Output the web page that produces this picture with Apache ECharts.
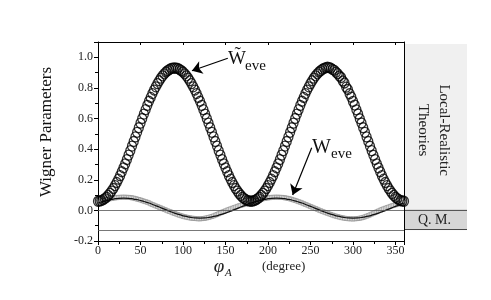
<!DOCTYPE html>
<html><head><meta charset="utf-8">
<script src="https://cdn.jsdelivr.net/npm/echarts@6/dist/echarts.min.js"></script>
<style>html,body{margin:0;padding:0;background:#fff}#c{width:491px;height:300px}</style>
</head><body><div id="c"></div>
<script>
// phi_A (degree) for the measured points
const phi = [0,2,4,6,8,10,12,14,16,18,20,22,24,26,28,30,32,34,36,38,40,42,44,46,48,50,52,54,56,58,60,62,64,66,68,70,72,74,76,78,80,82,84,86,88,90,92,94,96,98,100,102,104,106,108,110,112,114,116,118,120,122,124,126,128,130,132,134,136,138,140,142,144,146,148,150,152,154,156,158,160,162,164,166,168,170,172,174,176,178,180,182,184,186,188,190,192,194,196,198,200,202,204,206,208,210,212,214,216,218,220,222,224,226,228,230,232,234,236,238,240,242,244,246,248,250,252,254,256,258,260,262,264,266,268,270,272,274,276,278,280,282,284,286,288,290,292,294,296,298,300,302,304,306,308,310,312,314,316,318,320,322,324,326,328,330,332,334,336,338,340,342,344,346,348,350,352,354,356,358,360];
// W~eve (open circles)
const wTildeEve = [0.060,0.061,0.064,0.070,0.077,0.086,0.098,0.111,0.126,0.143,0.162,0.182,0.204,0.227,0.252,0.278,0.304,0.332,0.361,0.390,0.420,0.450,0.480,0.510,0.540,0.570,0.600,0.629,0.658,0.686,0.713,0.738,0.763,0.786,0.807,0.828,0.847,0.864,0.879,0.892,0.904,0.913,0.920,0.927,0.929,0.930,
0.929,0.927,0.920,0.913,0.904,0.892,0.879,0.864,0.847,0.828,0.807,0.786,0.763,0.738,0.713,0.686,0.658,0.629,0.600,0.570,0.540,0.510,0.480,0.450,0.420,0.390,0.361,0.332,0.304,0.278,0.252,0.227,0.204,0.182,0.162,0.143,0.126,0.111,0.098,0.086,0.077,0.070,0.064,0.061,0.060,
0.061,0.064,0.070,0.077,0.086,0.098,0.111,0.126,0.143,0.162,0.182,0.204,0.227,0.252,0.278,0.304,0.332,0.361,0.390,0.420,0.450,0.480,0.510,0.540,0.570,0.600,0.629,0.658,0.686,0.713,0.738,0.763,0.786,0.807,0.828,0.847,0.864,0.879,0.892,0.904,0.913,0.922,0.928,0.932,0.935,
0.933,0.929,0.921,0.915,0.903,0.893,0.878,0.868,0.845,0.832,0.805,0.790,0.762,0.740,0.712,0.688,0.657,0.630,0.599,0.571,0.540,0.510,0.480,0.450,0.419,0.390,0.360,0.332,0.304,0.278,0.252,0.227,0.204,0.182,0.162,0.143,0.126,0.111,0.098,0.086,0.077,0.070,0.064,0.061,0.060];
// Weve (grey squares, measured)
const wEve = [0.054,0.057,0.061,0.065,0.068,0.071,0.074,0.076,0.078,0.080,0.082,0.083,0.085,0.085,0.086,0.086,0.086,0.085,0.085,0.084,0.082,0.080,0.077,0.074,0.071,0.068,0.064,0.060,0.057,0.053,0.049,
0.043,0.038,0.034,0.029,0.025,0.020,0.016,0.011,0.006,0.002,-0.003,-0.007,-0.011,-0.016,-0.020,-0.024,-0.028,-0.032,-0.035,-0.039,-0.042,-0.044,-0.047,-0.049,-0.051,-0.052,-0.053,-0.054,-0.055,-0.055,
-0.054,-0.053,-0.051,-0.049,-0.046,-0.043,-0.040,-0.036,-0.031,-0.027,-0.022,-0.017,-0.012,-0.007,-0.003,0.002,0.006,0.010,0.014,0.018,0.022,0.026,0.030,0.033,0.036,0.039,0.042,0.045,0.048,0.051,
0.055,0.059,0.063,0.067,0.070,0.073,0.076,0.078,0.080,0.082,0.083,0.085,0.085,0.086,0.086,0.086,0.085,0.085,0.084,0.082,0.080,0.078,0.075,0.072,0.068,0.065,0.061,0.057,0.053,0.049,
0.044,0.039,0.035,0.030,0.025,0.021,0.016,0.012,0.007,0.002,-0.002,-0.007,-0.011,-0.015,-0.019,-0.023,-0.027,-0.031,-0.035,-0.038,-0.041,-0.044,-0.047,-0.049,-0.051,-0.053,-0.054,-0.055,-0.055,-0.056,
-0.055,-0.054,-0.053,-0.051,-0.049,-0.046,-0.042,-0.038,-0.034,-0.029,-0.024,-0.019,-0.014,-0.009,-0.004,0.001,0.006,0.010,0.014,0.018,0.022,0.026,0.030,0.033,0.036,0.039,0.042,0.045,0.048,0.051];
// phi_A (degree) for the black Weve curve
const phiCurve = [0,6,12,18,24,30,36,42,48,54,60,66,72,78,84,90,96,102,108,114,120,126,132,138,144,150,156,162,168,174,180,186,192,198,204,210,216,222,228,234,240,246,252,258,264,270,276,282,288,294,300,306,312,318,324,330,336,342,348,354,360];
// Weve (black curve)
const wEveCurve = [0.048,0.058,0.068,0.074,0.079,0.080,0.079,0.074,0.068,0.058,0.048,0.035,0.022,0.008,-0.005,-0.018,-0.028,-0.038,-0.044,-0.049,-0.050,
-0.049,-0.044,-0.038,-0.028,-0.018,-0.005,0.008,0.022,0.035,0.048,
0.058,0.068,0.074,0.079,0.080,0.079,0.074,0.068,0.058,0.048,0.035,0.022,0.008,-0.005,-0.018,-0.028,-0.038,-0.044,-0.049,-0.050,
-0.049,-0.044,-0.038,-0.028,-0.018,-0.005,0.008,0.022,0.035,0.048];
// reference levels (Q.M. band)
const qmBand = [0, -0.125];
// annotation arrows [tail, head] in data units
const arrowTilde = [[152.7, 0.994], [110.5, 0.912]];
const arrowEve = [[251.4, 0.409], [229.0, 0.100]];

const SERIF = '"Liberation Serif","Times New Roman",serif';
const chart = echarts.init(document.getElementById('c'), null, {renderer:'canvas'});
const axLine = {show:true, onZero:false, lineStyle:{color:'#000', width:1}};
const option = {
  animation:false,
  grid:{left:98, right:87, top:42, bottom:59, show:false},
  xAxis:[{
    type:'value', min:0, max:360, interval:50,
    axisLine:axLine,
    axisTick:{inside:false, length:4, lineStyle:{color:'#000'}},
    minorTick:{show:true, splitNumber:2, length:3, lineStyle:{color:'#000'}},
    axisLabel:{fontFamily:SERIF, fontSize:12, color:'#222', margin:4, showMaxLabel:false},
    splitLine:{show:false}
  },{
    type:'value', position:'top', min:0, max:360, interval:50,
    axisLine:axLine,
    axisTick:{inside:true, length:3, lineStyle:{color:'#000'}},
    minorTick:{show:false},
    axisLabel:{show:false}, splitLine:{show:false}
  }],
  yAxis:[{
    type:'value', min:-0.2, max:1.1, interval:0.2,
    axisLine:axLine,
    axisTick:{show:true, inside:false, length:4, lineStyle:{color:'#000'}},
    minorTick:{show:true, splitNumber:2, length:3, lineStyle:{color:'#000'}},
    axisLabel:{fontFamily:SERIF, fontSize:12, color:'#222', margin:5, formatter:v=>v.toFixed(1), showMaxLabel:false},
    splitLine:{show:false}
  },{
    type:'value', position:'right', min:-0.2, max:1.1, interval:0.2,
    axisLine:axLine,
    axisTick:{show:false}, axisLabel:{show:false}, splitLine:{show:false}
  }],
  series:[
    {
      type:'scatter', name:'Weve data', symbol:'rect', symbolSize:4,
      data:phi.map((p,i)=>[p, wEve[i]]),
      itemStyle:{color:'#e8e8e8', borderColor:'#8c8c8c', borderWidth:0.8},
      z:2
    },
    {
      type:'line', name:'Weve curve', showSymbol:false, smooth:true,
      data:phiCurve.map((p,i)=>[p, wEveCurve[i]]),
      lineStyle:{color:'#111', width:1.2},
      markLine:{
        silent:true, symbol:['none','none'], label:{show:false},
        lineStyle:{color:'#555', width:0.8, type:'solid'},
        data:qmBand.map(v=>({yAxis:v}))
      },
      z:3
    },
    {
      type:'scatter', name:'W~eve', symbol:'circle', symbolSize:[9,10],
      data:phi.map((p,i)=>[p, wTildeEve[i]]),
      itemStyle:{color:'rgba(255,255,255,0)', borderColor:'#000', borderWidth:1.3},
      z:4
    },
    {
      type:'line', name:'arrows', data:[], silent:true,
      markLine:{
        silent:true, symbol:['none','arrow'], symbolSize:10, label:{show:false},
        lineStyle:{color:'#000', width:1.2, type:'solid'},
        data:[
          [{coord:arrowTilde[0]},{coord:arrowTilde[1]}],
          [{coord:arrowEve[0]},{coord:arrowEve[1]}]
        ]
      },
      z:6
    }
  ]
};
chart.setOption(option);

// side panel and text annotations
const px = (x,y)=>chart.convertToPixel({xAxisIndex:0, yAxisIndex:0}, [x,y]);
const tl = px(360, 1.1);
const y0 = px(0, qmBand[0])[1];
const y1 = px(0, qmBand[1])[1];
const panelL = tl[0], panelR = tl[0] + 63;
chart.setOption({graphic:[
  {type:'rect', shape:{x:panelL, y:tl[1]+2, width:panelR-panelL, height:y0-tl[1]-2}, style:{fill:'#f0f0f0'}, z:-1},
  {type:'rect', shape:{x:panelL, y:y0, width:panelR-panelL, height:y1-y0}, style:{fill:'#d6d6d6'}, z:-1},
  {type:'line', shape:{x1:panelL, y1:y0, x2:panelR, y2:y0}, style:{stroke:'#444', lineWidth:1}},
  {type:'line', shape:{x1:panelL, y1:y1, x2:panelR, y2:y1}, style:{stroke:'#444', lineWidth:1}},
  {type:'text', x:(panelL+panelR)/2 - 2, y:(tl[1]+y0)/2 + 4, rotation:-Math.PI/2,
    style:{text:'Local-Realistic\nTheories', font:'15px '+SERIF, fill:'#222', align:'center', verticalAlign:'middle', lineHeight:21}},
  {type:'text', x:(panelL+panelR)/2 - 1, y:(y0+y1)/2, style:{text:'Q. M.', font:'14px '+SERIF, fill:'#222', align:'center', verticalAlign:'middle'}},
  {type:'text', x:47, y:132, rotation:Math.PI/2,
    style:{text:'Wigner Parameters', font:'17px '+SERIF, fill:'#111', align:'center', verticalAlign:'middle'}},
  {type:'text', x:219, y:267, style:{text:'\u03c6', font:'italic 19px '+SERIF, fill:'#222', align:'center', verticalAlign:'middle'}},
  {type:'text', x:225, y:273, style:{text:'A', font:'italic 11px '+SERIF, fill:'#222', align:'left', verticalAlign:'middle'}},
  {type:'text', x:262, y:267, style:{text:'(degree)', font:'13px '+SERIF, fill:'#222', align:'left', verticalAlign:'middle'}},
  {type:'text', x:228, y:59, style:{text:'W\u0303', font:'19px '+SERIF, fill:'#111', align:'left', verticalAlign:'middle'}},
  {type:'text', x:245, y:66, style:{text:'eve', font:'15px '+SERIF, fill:'#111', align:'left', verticalAlign:'middle'}},
  {type:'text', x:312, y:148, style:{text:'W', font:'20px '+SERIF, fill:'#111', align:'left', verticalAlign:'middle'}},
  {type:'text', x:331, y:154, style:{text:'eve', font:'15px '+SERIF, fill:'#111', align:'left', verticalAlign:'middle'}}
]});
</script></body></html>
